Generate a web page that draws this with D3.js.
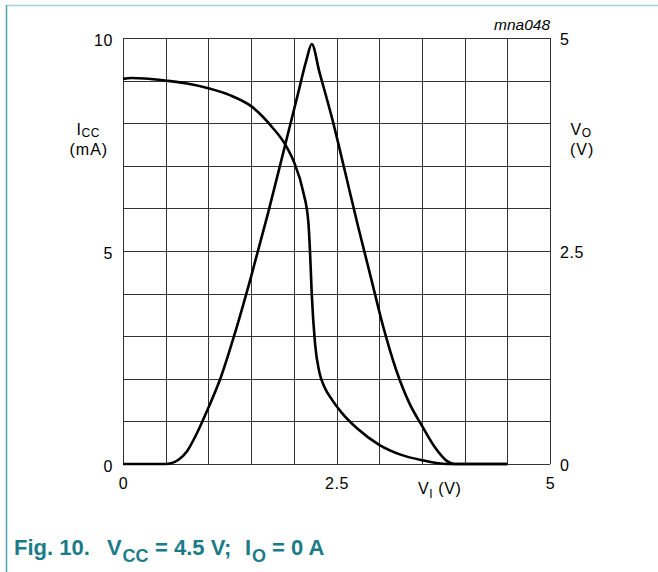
<!DOCTYPE html>
<html>
<head>
<meta charset="utf-8">
<script src="https://cdn.jsdelivr.net/npm/d3@7"></script>
<style>
  body { margin: 0; background: #fff; }
  text { font-family: "Liberation Sans", Arial, sans-serif; }
</style>
</head>
<body>
<svg width="658" height="572"></svg>
<script>
// supply current vs input voltage (left axis, mA)
var viIcc = [0, 0.1, 0.25, 0.5, 0.75, 1.0, 1.25, 1.5, 1.75, 1.9, 2.0, 2.11, 2.17, 2.19, 2.21, 2.25, 2.3, 2.36, 2.45, 2.55, 2.75, 3.0, 3.25, 3.5, 3.8, 4.5];
var icc   = [9.04, 9.06, 9.05, 9.0, 8.93, 8.82, 8.66, 8.4, 7.9, 7.5, 7.1, 6.39, 5.69, 4.98, 4.0, 2.8, 2.15, 1.8, 1.5, 1.23, 0.82, 0.45, 0.22, 0.09, 0, 0];
// output voltage vs input voltage (right axis, V)
var viVo = [0, 0.5, 0.55, 0.65, 0.75, 0.85, 1.0, 1.15, 1.3, 1.5, 1.7, 1.9, 2.05, 2.15, 2.21, 2.3, 2.45, 2.6, 2.75, 2.9, 3.05, 3.2, 3.35, 3.5, 3.65, 3.8, 3.88, 4.5];
var vo   = [0, 0, 0.005, 0.05, 0.15, 0.33, 0.66, 1.03, 1.5, 2.2, 2.95, 3.75, 4.35, 4.75, 4.93, 4.6, 4.05, 3.43, 2.8, 2.2, 1.6, 1.1, 0.72, 0.45, 0.2, 0.03, 0, 0];

var xTicks = [0, 2.5, 5],
    iccTicks = [0, 5, 10],
    voTicks = [0, 2.5, 5];

var margin = {top: 38, left: 123},
    width = 427,
    height = 426;

var svg = d3.select("svg");

// page frame
svg.append("line")
    .attr("x1", 7).attr("x2", 658).attr("y1", 5.5).attr("y2", 5.5)
    .attr("stroke", "#a6d2d8").attr("stroke-width", 1.5);
svg.append("line")
    .attr("x1", 6.5).attr("x2", 6.5).attr("y1", 5).attr("y2", 572)
    .attr("stroke", "#4ba4b0").attr("stroke-width", 1.5);

var g = svg.append("g")
    .attr("transform", "translate(" + margin.left + "," + margin.top + ")");

var x = d3.scaleLinear().domain([0, 5]).range([0, width]);
var y = d3.scaleLinear().domain([0, 10]).range([height, 0]);
var y1 = d3.scaleLinear().domain([0, 5]).range([height, 0]);

// grid
g.append("g").selectAll("line")
    .data(x.ticks(10))
  .enter().append("line")
    .attr("x1", function(d) { return Math.round(x(d)) + 0.5; })
    .attr("x2", function(d) { return Math.round(x(d)) + 0.5; })
    .attr("y1", 0).attr("y2", height)
    .attr("stroke", "#333").attr("stroke-width", 1);
g.append("g").selectAll("line")
    .data(y.ticks(10))
  .enter().append("line")
    .attr("y1", function(d) { return Math.round(y(d)) + 0.5; })
    .attr("y2", function(d) { return Math.round(y(d)) + 0.5; })
    .attr("x1", 0).attr("x2", width)
    .attr("stroke", "#333").attr("stroke-width", 1);

function styleAxis(a) {
  a.select(".domain").remove();
  a.attr("font-family", "Liberation Sans, Arial, sans-serif")
   .attr("font-size", 16);
  a.selectAll("text").attr("fill", "#000").attr("letter-spacing", 0.6);
}

g.append("g")
    .attr("transform", "translate(0," + height + ")")
    .call(d3.axisBottom(x).tickValues(xTicks).tickSize(0).tickPadding(14)
      .tickFormat(function(d) { return d; }))
    .call(styleAxis);

g.append("g")
    .call(d3.axisLeft(y).tickValues(iccTicks).tickSize(0).tickPadding(10))
    .call(styleAxis)
    .selectAll("text").attr("y", 2);

g.append("g")
    .attr("transform", "translate(" + width + ",0)")
    .call(d3.axisRight(y1).tickValues(voTicks).tickSize(0).tickPadding(10)
      .tickFormat(function(d) { return d; }))
    .call(styleAxis)
    .selectAll("text").attr("y", 1.5);

// curves
var lineIcc = d3.line()
    .x(function(d, i) { return x(viIcc[i]); })
    .y(function(d) { return y(d); })
    .curve(d3.curveMonotoneX);
var lineVo = d3.line()
    .x(function(d, i) { return x(viVo[i]); })
    .y(function(d) { return y1(d); })
    .curve(d3.curveMonotoneX);

g.append("path")
    .attr("fill", "none").attr("stroke", "#000").attr("stroke-width", 2.6)
    .attr("stroke-linejoin", "round")
    .attr("d", lineIcc(icc));
g.append("path")
    .attr("fill", "none").attr("stroke", "#000").attr("stroke-width", 2.6)
    .attr("stroke-linejoin", "round")
    .attr("d", lineVo(vo));

// axis titles
var t = svg.append("text").attr("x", 76.5).attr("y", 135)
    .attr("font-size", 16).attr("letter-spacing", 0.6);
t.append("tspan").text("I");
t.append("tspan").attr("font-size", 12).attr("dy", 1.5).text("CC");
svg.append("text").attr("x", 69.5).attr("y", 155).attr("font-size", 16)
    .attr("letter-spacing", 1).text("(mA)");

var t2 = svg.append("text").attr("x", 570.5).attr("y", 135)
    .attr("font-size", 16).attr("letter-spacing", 0.6);
t2.append("tspan").text("V");
t2.append("tspan").attr("font-size", 12).attr("dy", 1.5).text("O");
svg.append("text").attr("x", 570).attr("y", 155).attr("font-size", 16)
    .attr("letter-spacing", 1).text("(V)");

var t3 = svg.append("text").attr("x", 418).attr("y", 494)
    .attr("font-size", 16).attr("letter-spacing", 0.6);
t3.append("tspan").text("V");
t3.append("tspan").attr("font-size", 12).attr("dy", 4).text("I");
t3.append("tspan").attr("dy", -4).text(" (V)");

svg.append("text").attr("x", 550).attr("y", 30).attr("font-size", 15.5)
    .attr("font-style", "italic").attr("text-anchor", "end").text("mna048");

// figure caption
var cap = svg.append("text").attr("y", 555)
    .attr("font-size", 22).attr("font-weight", "bold").attr("fill", "#1b7b88");
cap.append("tspan").attr("x", 14).text("Fig. 10.");
cap.append("tspan").attr("x", 107).text("V");
cap.append("tspan").attr("x", 122.5).attr("font-size", 18).attr("dy", 7).text("CC");
cap.append("tspan").attr("x", 155).attr("dy", -7).text("= 4.5 V;");
cap.append("tspan").attr("x", 245).text("I");
cap.append("tspan").attr("x", 252).attr("font-size", 18).attr("dy", 7).text("O");
cap.append("tspan").attr("x", 272).attr("dy", -7).text("= 0 A");
</script>
</body>
</html>
